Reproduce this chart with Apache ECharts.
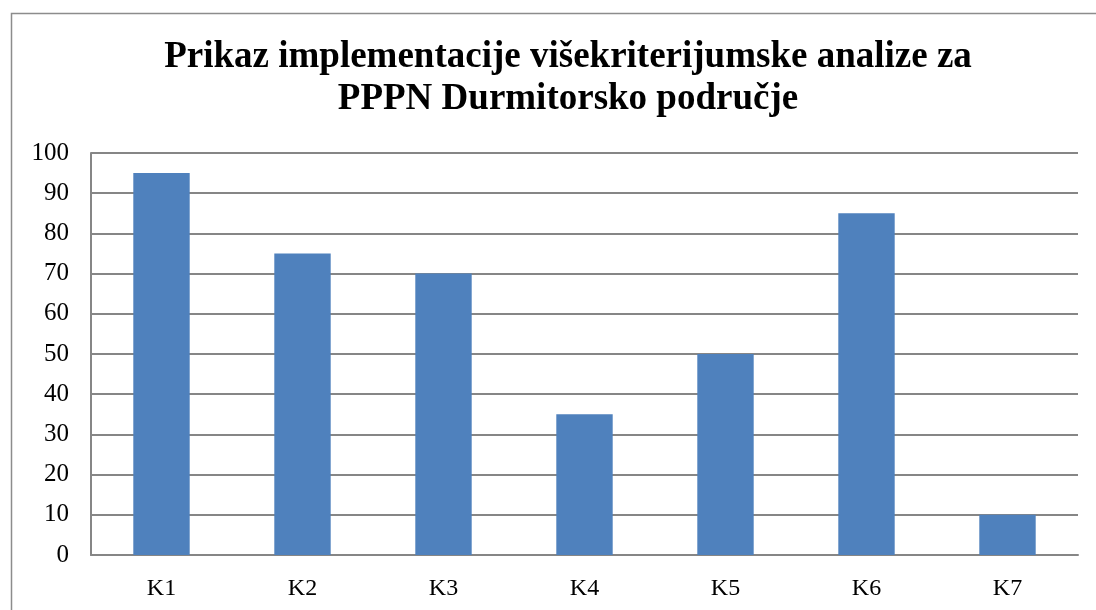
<!DOCTYPE html>
<html>
<head>
<meta charset="utf-8">
<script src="https://cdn.jsdelivr.net/npm/echarts@6/dist/echarts.min.js"></script>
<style>
  html, body { margin: 0; padding: 0; background: #fff; }
  #chart { width: 1096px; height: 610px; }
</style>
</head>
<body>
<div id="chart"></div>
<script>
// Criteria and their implementation scores
const categories = ['K1', 'K2', 'K3', 'K4', 'K5', 'K6', 'K7'];
const scores = [95, 75, 70, 35, 50, 85, 10];
const titleLines = ['Prikaz implementacije višekriterijumske analize za', 'PPPN Durmitorsko područje'];

const serif = '"Liberation Serif", "DejaVu Serif", serif';
const chart = echarts.init(document.getElementById('chart'));

chart.setOption({
  animation: false,
  backgroundColor: '#fff',
  title: {
    text: titleLines.join('\n'),
    left: 563,
    top: 31,
    textAlign: 'center',
    textStyle: {
      fontFamily: serif,
      fontWeight: 'bold',
      fontSize: 37,
      lineHeight: 42,
      color: '#000'
    }
  },
  graphic: [{
    type: 'rect',
    shape: { x: 11.5, y: 13.5, width: 1200, height: 700 },
    style: { fill: 'none', stroke: '#8c8c8c', lineWidth: 1.5 },
    silent: true,
    z: 10
  }],
  grid: { left: 91, right: 18, top: 153, bottom: 55, containLabel: false },
  xAxis: {
    type: 'category',
    data: categories,
    axisLine: { show: true, lineStyle: { color: '#868686', width: 2 } },
    axisTick: { show: false },
    axisLabel: { fontFamily: serif, fontSize: 24, color: '#000', margin: 22 }
  },
  yAxis: {
    type: 'value',
    min: 0,
    max: 100,
    interval: 10,
    axisLine: { show: true, lineStyle: { color: '#868686', width: 2 } },
    axisTick: { show: false },
    axisLabel: { fontFamily: serif, fontSize: 25, color: '#000', margin: 22 },
    splitLine: { show: true, lineStyle: { color: '#868686', width: 2 } }
  },
  series: [{
    type: 'bar',
    data: scores,
    barWidth: '40%',
    itemStyle: { color: '#4F81BD' }
  }]
});
</script>
</body>
</html>
